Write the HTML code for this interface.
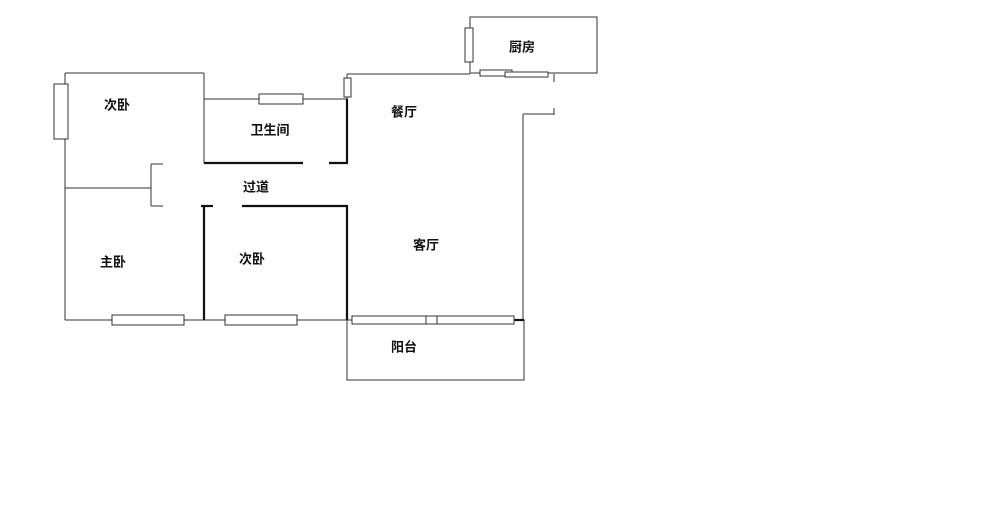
<!DOCTYPE html>
<html><head><meta charset="utf-8"><style>
body{margin:0;background:#fff;width:1000px;height:516px;overflow:hidden}
text{font-family:"Liberation Sans","Noto Sans CJK SC",sans-serif;font-size:13px;font-weight:bold;fill:#111;text-anchor:middle;dominant-baseline:middle}
</style></head><body>
<svg width="1000" height="516" viewBox="0 0 1000 516" xmlns="http://www.w3.org/2000/svg">
<g stroke="#333" fill="none" stroke-width="1">
<line x1="65" y1="73" x2="204" y2="73"/>
<line x1="65" y1="73" x2="65" y2="320"/>
<line x1="204" y1="73" x2="204" y2="163"/>
<line x1="204" y1="99" x2="347" y2="99"/>
<line x1="65" y1="188" x2="151" y2="188"/>
<line x1="151" y1="164" x2="151" y2="206"/>
<line x1="151" y1="164" x2="163" y2="164"/>
<line x1="151" y1="206" x2="163" y2="206"/>
<line x1="65" y1="320" x2="347" y2="320"/>
<line x1="347" y1="74" x2="470" y2="74"/>
<line x1="347" y1="74" x2="347" y2="99"/>
<rect x="470" y="17" width="127" height="56"/>
<line x1="554" y1="74" x2="554" y2="82"/>
<line x1="554" y1="108" x2="554" y2="115"/>
<line x1="523" y1="114" x2="554" y2="114"/>
<line x1="523" y1="114" x2="523" y2="320"/>
<rect x="347" y="320" width="177" height="60"/>
</g>
<g stroke="#111" fill="none" stroke-width="2.2">
<line x1="204" y1="163" x2="303" y2="163"/>
<line x1="329" y1="163" x2="348" y2="163"/>
<line x1="347" y1="99" x2="347" y2="163"/>
<line x1="201" y1="206" x2="213" y2="206"/>
<line x1="204" y1="206" x2="204" y2="320"/>
<line x1="242" y1="206" x2="348" y2="206"/>
<line x1="347" y1="206" x2="347" y2="320"/>
<line x1="514" y1="320" x2="524" y2="320"/>
</g>
<g stroke="#333" fill="#fff" stroke-width="1">
<rect x="54" y="84" width="14" height="55"/>
<rect x="259" y="94" width="44" height="10"/>
<rect x="112" y="315" width="72" height="10"/>
<rect x="225" y="315" width="72" height="10"/>
<rect x="344" y="78" width="7" height="19"/>
<rect x="465" y="28" width="8" height="34"/>
<rect x="480" y="70" width="32" height="6"/>
<rect x="505" y="72" width="43" height="5"/>
<rect x="352" y="316" width="162" height="8"/>
<rect x="426" y="316" width="11" height="8"/>
</g>
<text x="117" y="106">次卧</text>
<text x="270" y="131">卫生间</text>
<text x="256" y="188">过道</text>
<text x="113" y="263">主卧</text>
<text x="252" y="260">次卧</text>
<text x="404" y="113">餐厅</text>
<text x="426" y="246">客厅</text>
<text x="404" y="348">阳台</text>
<text x="522" y="48">厨房</text>
</svg>
</body></html>
